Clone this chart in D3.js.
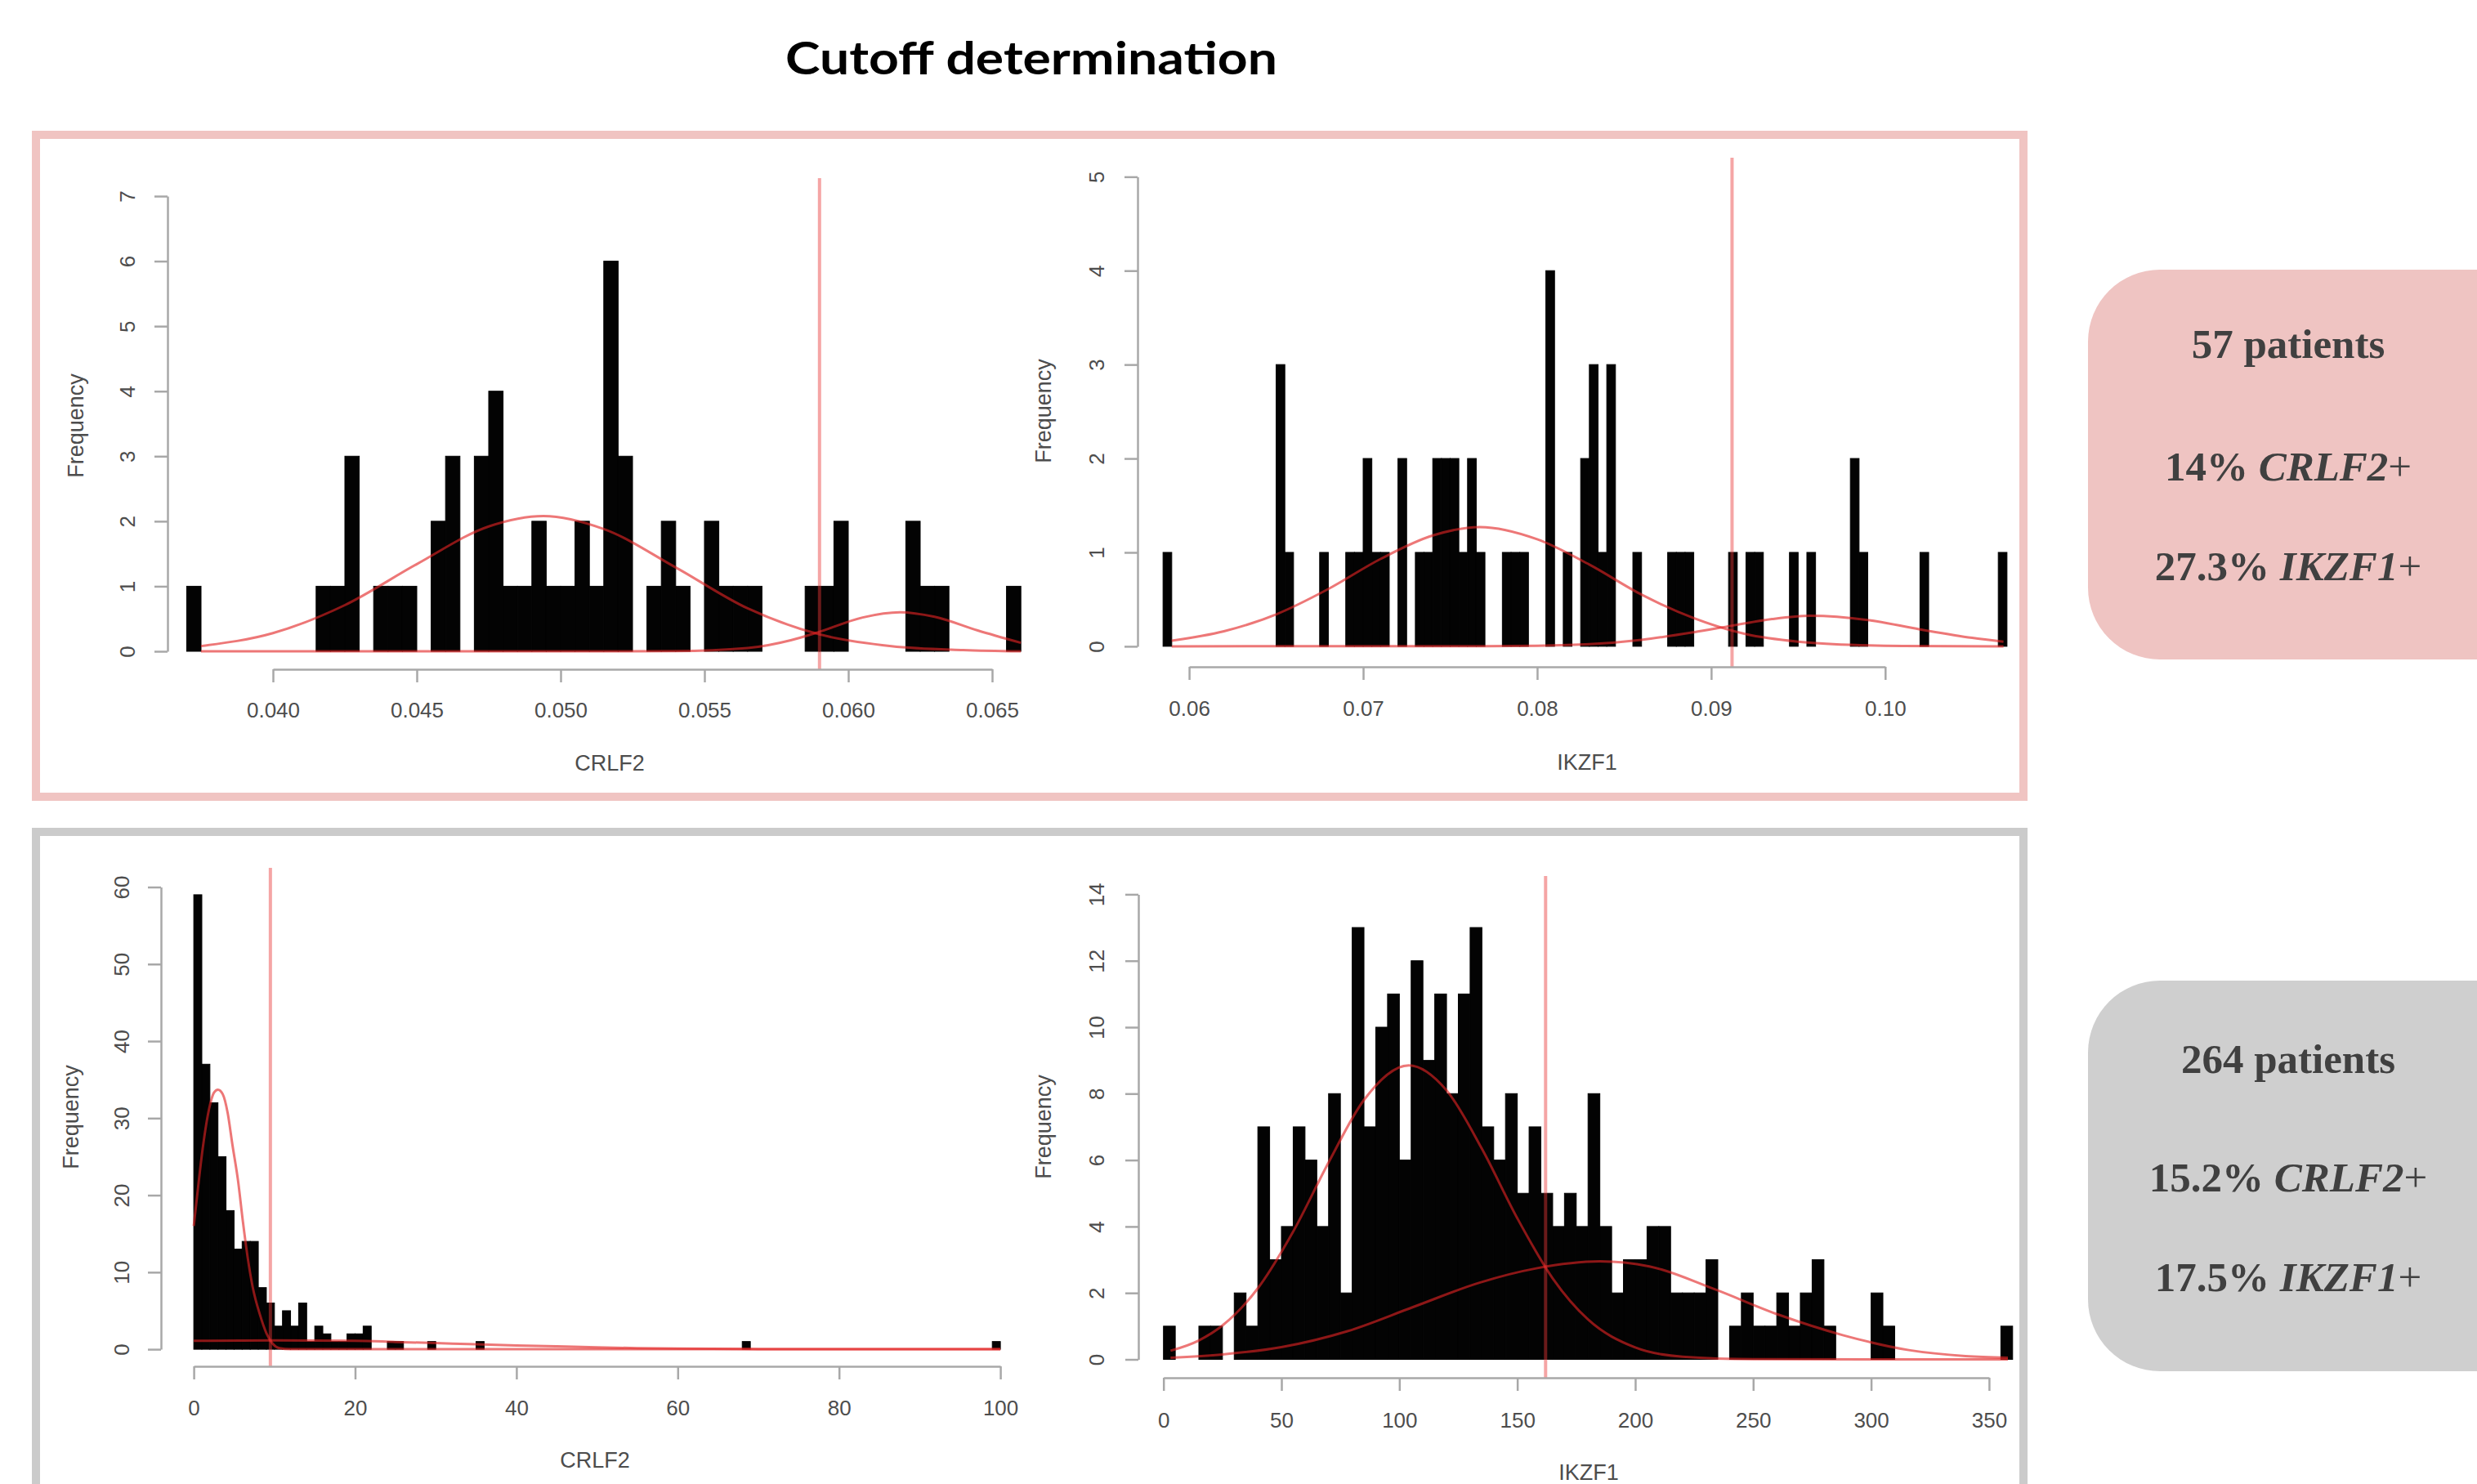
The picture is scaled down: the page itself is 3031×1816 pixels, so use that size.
<!DOCTYPE html>
<html><head><meta charset="utf-8">
<script src="https://cdn.jsdelivr.net/npm/d3@7"></script>
<style>html,body{margin:0;padding:0;background:#fff;} svg{display:block;}</style>
</head><body>
<svg id="chart" width="3031" height="1816"></svg>
<script>
// ---------------- DATA ----------------
const chartTitle = "Cutoff determination";

// Top-left: CRLF2, 57 patients
const crlf2A_binStart = 0.037, crlf2A_binWidth = 0.0005;
const crlf2A_counts = [1,0,0,0,0,0,0,0,0,1, 1,3,0,1,1,1,0,2,3,0, 3,4,1,1,2,1,1,2,1,6, 3,0,1,2,1,0,2,1,1,1, 0,0,0,1,1,2,0,0,0,0, 2,1,1,0,0,0,0,1];
const crlf2A_xTicks = [0.040,0.045,0.050,0.055,0.060,0.065];
const crlf2A_xTickLabels = ["0.040","0.045","0.050","0.055","0.060","0.065"];
const crlf2A_yTicks = [0,1,2,3,4,5,6,7];
const crlf2A_cutoff = 0.059;
const crlf2A_fit1_x = [0.0375,0.040,0.0425,0.045,0.0475,0.0494,0.0515,0.054,0.0565,0.059,0.0615,0.064,0.066];
const crlf2A_fit1_y = [0.08,0.28,0.71,1.34,1.92,2.08,1.88,1.29,0.66,0.26,0.08,0.02,0.0];
const crlf2A_fit2_x = [0.0375,0.050,0.054,0.0565,0.058,0.059,0.0605,0.0618,0.063,0.0645,0.066];
const crlf2A_fit2_y = [0,0,0.003,0.05,0.17,0.30,0.52,0.60,0.53,0.32,0.13];

// Top-right: IKZF1, 57 patients
const ikzf1A_binStart = 0.0585, ikzf1A_binWidth = 0.0005;
const ikzf1A_counts = [1,0,0,0,0,0,0,0,0,0, 0,0,0,3,1,0,0,0,1,0, 0,1,1,2,1,1,0,2,0,1, 1,2,2,2,1,2,1,0,0,1, 1,1,0,0,4,0,1,0,2,3, 1,3,0,0,1,0,0,0,1,1, 1,0,0,0,0,1,0,1,1,0, 0,0,1,0,1,0,0,0,0,2, 1,0,0,0,0,0,0,1,0,0, 0,0,0,0,0,0,1];
const ikzf1A_xTicks = [0.06,0.07,0.08,0.09,0.10];
const ikzf1A_xTickLabels = ["0.06","0.07","0.08","0.09","0.10"];
const ikzf1A_yTicks = [0,1,2,3,4,5];
const ikzf1A_cutoff = 0.0912;
const ikzf1A_fit1_x = [0.059,0.062,0.065,0.068,0.071,0.074,0.0767,0.080,0.083,0.086,0.089,0.092,0.095,0.098,0.101,0.1068];
const ikzf1A_fit1_y = [0.06,0.16,0.34,0.61,0.93,1.18,1.27,1.14,0.87,0.55,0.30,0.13,0.05,0.016,0.004,0];
const ikzf1A_fit2_x = [0.059,0.077,0.080,0.083,0.086,0.089,0.0912,0.0935,0.0957,0.099,0.102,0.105,0.1068];
const ikzf1A_fit2_y = [0,0.002,0.006,0.022,0.069,0.15,0.22,0.29,0.325,0.28,0.18,0.09,0.05];

// Bottom-left: CRLF2, 264 patients
const crlf2B_binStart = 0, crlf2B_binWidth = 1;
const crlf2B_counts = [59,37,32,25,18,13,14,14,8,6, 3,5,3,6,1,3,2,1,1,2, 2,3,0,0,1,1,0,0,0,1, 0,0,0,0,0,1,0,0,0,0,
  0,0,0,0,0,0,0,0,0,0, 0,0,0,0,0,0,0,0,0,0, 0,0,0,0,0,0,0,0,1,0, 0,0,0,0,0,0,0,0,0,0, 0,0,0,0,0,0,0,0,0,0, 0,0,0,0,0,0,0,0,0,1];
const crlf2B_xTicks = [0,20,40,60,80,100];
const crlf2B_xTickLabels = ["0","20","40","60","80","100"];
const crlf2B_yTicks = [0,10,20,30,40,50,60];
const crlf2B_cutoff = 9.5;
const crlf2B_fit1_x = [0,0.5,1.1,1.9,2.5,3.0,3.6,4.2,4.8,5.5,6.1,6.7,7.3,8.2,9.0,9.8,10.6,12,20,40,100];
const crlf2B_fit1_y = [16,20.7,26,31.2,33.3,33.7,33.1,30.7,26.5,21.8,16.5,11.8,8.1,4.5,2.1,0.7,0.15,0,0,0,0];
const crlf2B_fit2_x = [0,10,20,25,30,35,40,45,50,55,60,70,80,100];
const crlf2B_fit2_y = [1.1,1.15,1.1,0.95,0.8,0.65,0.5,0.37,0.25,0.15,0.08,0.02,0,0];

// Bottom-right: IKZF1, 264 patients
const ikzf1B_binStart = 0, ikzf1B_binWidth = 5;
const ikzf1B_counts = [1,0,0,1,1,0,2,1,7,3, 4,7,6,4,8,2,13,7,10,11, 6,12,9,11,8,11,13,7,6,8, 5,7,5,4,5,4,8,4,2,3, 3,4,4,2,2,2,3,0,1,2, 1,1,2,1,2,3,1,0,0,0, 2,1,0,0,0,0,0,0,0,0, 0,1];
const ikzf1B_xTicks = [0,50,100,150,200,250,300,350];
const ikzf1B_xTickLabels = ["0","50","100","150","200","250","300","350"];
const ikzf1B_yTicks = [0,2,4,6,8,10,12,14];
const ikzf1B_cutoff = 162;
const ikzf1B_fit1_x = [3,15,25,40,55,70,85,104,120,135,150,165,180,200,220,250,300,358];
const ikzf1B_fit1_y = [0.26,0.57,1.02,2.14,3.85,5.93,7.81,8.85,8.1,6.34,4.25,2.44,1.2,0.36,0.08,0.005,0,0];
const ikzf1B_fit2_x = [3,25,50,78,106,134,158,185,206,233,261,288,316,340,358];
const ikzf1B_fit2_y = [0.05,0.15,0.37,0.85,1.58,2.31,2.74,2.95,2.8,2.13,1.34,0.73,0.28,0.1,0.05];

// Summary boxes
const groupPatients = ["57 patients", "264 patients"];
const crlf2Pct = ["14%", "15.2%"];
const ikzf1Pct = ["27.3%", "17.5%"];

// ---------------- DRAW ----------------
const svg = d3.select("#chart");
svg.append("rect").attr("width",3031).attr("height",1816).attr("fill","#fff");

// Title
svg.append("text").attr("x",1262).attr("y",91).attr("text-anchor","middle")
  .attr("font-family","Lato, 'Open Sans', sans-serif").attr("font-weight","bold")
  .attr("font-size",56).attr("fill","#000")
  .attr("textLength",602).attr("lengthAdjust","spacingAndGlyphs")
  .text(chartTitle);

// Frames
svg.append("rect").attr("x",44).attr("y",165).attr("width",2432).attr("height",810)
  .attr("fill","none").attr("stroke","#f0c4c2").attr("stroke-width",10);
svg.append("rect").attr("x",44).attr("y",1018).attr("width",2432).attr("height",900)
  .attr("fill","none").attr("stroke","#cbcbcb").attr("stroke-width",10);

const AXIS_COL = "#a8a8a8", TEXT_COL = "#4d4d4d";
const FIT_COL = "rgba(226,35,35,0.62)", CUT_COL = "rgba(232,55,55,0.45)";

const panels = [
  { counts: crlf2A_counts, bs: crlf2A_binStart, bw: crlf2A_binWidth, xTicks: crlf2A_xTicks, xLabels: crlf2A_xTickLabels,
    yTicks: crlf2A_yTicks, cutoff: crlf2A_cutoff,
    fits: [[crlf2A_fit1_x, crlf2A_fit1_y],[crlf2A_fit2_x, crlf2A_fit2_y]], xTitle: "CRLF2",
    L: { xr:[334,1214], yr:[797,240], yAxisX:205, xAxisY:819, yLabX:156, xLabY:869, freq:[93,521], title:[746,934], cutTop:218 } },
  { counts: ikzf1A_counts, bs: ikzf1A_binStart, bw: ikzf1A_binWidth, xTicks: ikzf1A_xTicks, xLabels: ikzf1A_xTickLabels,
    yTicks: ikzf1A_yTicks, cutoff: ikzf1A_cutoff,
    fits: [[ikzf1A_fit1_x, ikzf1A_fit1_y],[ikzf1A_fit2_x, ikzf1A_fit2_y]], xTitle: "IKZF1",
    L: { xr:[1455.1,2306.8], yr:[790.9,216.3], yAxisX:1392, xAxisY:816, yLabX:1342, xLabY:867, freq:[1277,503], title:[1942,933], cutTop:193 } },
  { counts: crlf2B_counts, bs: crlf2B_binStart, bw: crlf2B_binWidth, xTicks: crlf2B_xTicks, xLabels: crlf2B_xTickLabels,
    yTicks: crlf2B_yTicks, cutoff: crlf2B_cutoff,
    fits: [[crlf2B_fit1_x, crlf2B_fit1_y],[crlf2B_fit2_x, crlf2B_fit2_y]], xTitle: "CRLF2",
    L: { xr:[237.1,1224.1], yr:[1651.1,1085.5], yAxisX:197, xAxisY:1672, yLabX:149, xLabY:1723, freq:[87,1367], title:[728,1787], cutTop:1062 } },
  { counts: ikzf1B_counts, bs: ikzf1B_binStart, bw: ikzf1B_binWidth, xTicks: ikzf1B_xTicks, xLabels: ikzf1B_xTickLabels,
    yTicks: ikzf1B_yTicks, cutoff: ikzf1B_cutoff,
    fits: [[ikzf1B_fit1_x, ikzf1B_fit1_y],[ikzf1B_fit2_x, ikzf1B_fit2_y]], xTitle: "IKZF1",
    L: { xr:[1423.7,2433.9], yr:[1663.5,1094.4], yAxisX:1393, xAxisY:1686, yLabX:1342, xLabY:1738, freq:[1277,1379], title:[1944,1802], cutTop:1072 } }
];

panels.forEach(p => {
  const L = p.L;
  const x = d3.scaleLinear().domain([p.xTicks[0], p.xTicks[p.xTicks.length-1]]).range(L.xr);
  const y = d3.scaleLinear().domain([p.yTicks[0], p.yTicks[p.yTicks.length-1]]).range(L.yr);
  const g = svg.append("g");

  // bars
  const bins = p.counts.map((c,i) => ({x0: p.bs + i*p.bw, x1: p.bs + (i+1)*p.bw, c}));
  g.selectAll("rect.bar").data(bins.filter(b => b.c > 0)).join("rect")
    .attr("x", b => x(b.x0)).attr("width", b => x(b.x1) - x(b.x0))
    .attr("y", b => y(b.c)).attr("height", b => y(0) - y(b.c))
    .attr("fill","#030303").attr("stroke","#030303").attr("stroke-width",1);

  // fitted curves
  const line = d3.line().x(d => x(d[0])).y(d => y(d[1])).curve(d3.curveMonotoneX);
  p.fits.forEach(([xs, ys]) => {
    g.append("path").datum(xs.map((v,i)=>[v, ys[i]])).attr("d", line)
      .attr("fill","none").attr("stroke",FIT_COL).attr("stroke-width",3);
  });

  // cutoff line
  g.append("line").attr("x1", x(p.cutoff)).attr("x2", x(p.cutoff))
    .attr("y1", L.cutTop).attr("y2", L.xAxisY).attr("stroke",CUT_COL).attr("stroke-width",4);

  // y axis
  const yAx = g.append("g").attr("transform",`translate(${L.yAxisX},0)`)
    .call(d3.axisLeft(y).tickValues(p.yTicks).tickSize(16).tickSizeOuter(0).tickFormat(d3.format("d")));
  yAx.selectAll("path,line").attr("stroke",AXIS_COL).attr("stroke-width",2.5);
  yAx.selectAll("text").attr("x",null).attr("dy",null).attr("text-anchor","middle")
    .attr("dominant-baseline","central")
    .attr("transform",`translate(${L.yLabX - L.yAxisX},0) rotate(-90)`)
    .attr("font-family","'Liberation Sans', Arial, sans-serif").attr("font-size",26).attr("fill",TEXT_COL);

  // x axis
  const xAx = g.append("g").attr("transform",`translate(0,${L.xAxisY})`)
    .call(d3.axisBottom(x).tickValues(p.xTicks).tickSize(16).tickSizeOuter(0).tickFormat((d,i)=>p.xLabels[i]));
  xAx.selectAll("path,line").attr("stroke",AXIS_COL).attr("stroke-width",2.5);
  xAx.selectAll("text").attr("dy",null).attr("y", L.xLabY - L.xAxisY).attr("dominant-baseline","central")
    .attr("font-family","'Liberation Sans', Arial, sans-serif").attr("font-size",26).attr("fill",TEXT_COL);
  svg.selectAll(".domain").attr("fill","none");

  // axis titles
  g.append("text").attr("transform",`translate(${L.freq[0]},${L.freq[1]}) rotate(-90)`)
    .attr("text-anchor","middle").attr("dominant-baseline","central")
    .attr("font-family","'Liberation Sans', Arial, sans-serif").attr("font-size",27).attr("fill",TEXT_COL)
    .text("Frequency");
  g.append("text").attr("x",L.title[0]).attr("y",L.title[1])
    .attr("text-anchor","middle").attr("dominant-baseline","central")
    .attr("font-family","'Liberation Sans', Arial, sans-serif").attr("font-size",27).attr("fill",TEXT_COL)
    .text(p.xTitle);
});

// Summary boxes
const boxes = [
  { fill:"#efc4c2", y:330, h:477, lines:[438,588,710] },
  { fill:"#cfcfcf", y:1200, h:478, lines:[1313,1458,1580] }
];
boxes.forEach((b, i) => {
  svg.append("rect").attr("x",2555).attr("y",b.y).attr("width",600).attr("height",b.h)
    .attr("rx",88).attr("ry",88).attr("fill",b.fill);
  const tcommon = t => t.attr("x",2800).attr("text-anchor","middle")
    .attr("font-family","'Liberation Serif','Times New Roman',serif").attr("font-size",51)
    .attr("font-weight","bold").attr("fill","#404040");
  tcommon(svg.append("text").attr("y",b.lines[0])).text(groupPatients[i]);
  const t1 = tcommon(svg.append("text").attr("y",b.lines[1]));
  t1.append("tspan").text(crlf2Pct[i] + " ");
  t1.append("tspan").attr("font-style","italic").text("CRLF2");
  t1.append("tspan").attr("font-weight","normal").text("+");
  const t2 = tcommon(svg.append("text").attr("y",b.lines[2]));
  t2.append("tspan").text(ikzf1Pct[i] + " ");
  t2.append("tspan").attr("font-style","italic").text("IKZF1");
  t2.append("tspan").attr("font-weight","normal").text("+");
});
</script>
</body></html>
